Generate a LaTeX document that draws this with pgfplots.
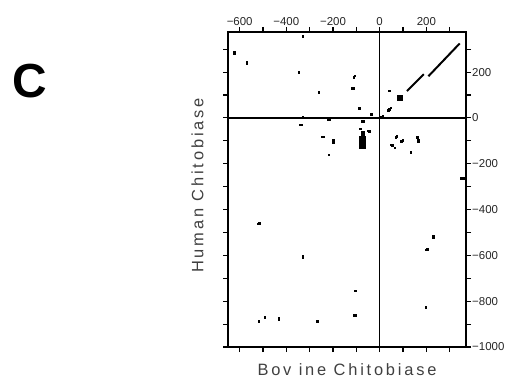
\documentclass[border=0pt]{standalone}
\usepackage{fontspec}
\setmainfont{Liberation Sans}
\usepackage{pgfplots}
\pgfplotsset{compat=1.18}
\usepackage{pgfplotstable}
\pgfplotstableread{
x y
-330 358
-623 284
-623 290
-570 240
-570 246
-347 200
-261 112
-330 4
-223 -6
-218 -6
-111 179
-108 185
-120 130
-114 130
-89 42
-36 17
7 4
12 7
36 34
40 38
46 45
40 120
-344 -29
-338 -29
-247 -81
-241 -81
-200 -98
-200 -106
-219 -160
-76 -13
-72 -13
-83 -46
-50 -55
-45 -57
69 -83
72 -80
93 -100
98 -97
46 -116
52 -120
64 -129
160 -83
164 -100
164 -95
133 -148
357 -262
350 -262
-523 -461
-518 -458
-330 -610
-330 -603
229 -522
229 -516
197 -575
202 -572
-519 -886
-493 -869
-433 -880
-433 -874
-269 -886
-106 -754
-110 -860
-104 -860
196 -825
-78 -60
-72 -60
-78 -68
-72 -68
-78 -75
-72 -75
-84 -82
-78 -82
-72 -82
-66 -82
-84 -90
-78 -90
-72 -90
-66 -90
-84 -98
-78 -98
-72 -98
-66 -98
-84 -106
-78 -106
-72 -106
-66 -106
-84 -114
-78 -114
-72 -114
-66 -114
-84 -122
-78 -122
-72 -122
-66 -122
-84 -130
-78 -130
-72 -130
-66 -130
80 80
86 80
92 80
80 86
86 86
92 86
80 92
86 92
92 92
80 98
86 98
92 98
}\pts
\pgfplotstableread{
x y
117 117
189 191
}\segA
\pgfplotstableread{
x y
209 182
343 325
}\segB
\begin{document}
\begin{tikzpicture}
\useasboundingbox (0,0) rectangle (510bp,381bp);
\node[font=\fontsize{48}{50}\selectfont\bfseries] at (30bp,300bp) {C};
\begin{axis}[
  at={(228bp,34bp)}, anchor=south west,
  width=238bp, height=315bp, scale only axis,
  xmin=-650, xmax=370, ymin=-1000, ymax=375,
  axis line style={line width=1.3pt},
  tick style={line width=1.1pt, black},
  major tick length=5bp,
  tick align=outside, tick pos=both,
  xtick={-600,-500,...,300},
  xticklabels={{\textminus600},,{\textminus400},,{\textminus200},,0,,200,},
  xticklabel pos=upper,
  ytick={-1000,-900,...,300},
  yticklabels={{\textminus1000},,{\textminus800},,{\textminus600},,{\textminus400},,{\textminus200},,0,,200,},
  yticklabel pos=right,
  every tick label/.append style={font=\fontsize{11.5}{13}\selectfont, text=black!85, inner sep=1pt},
  /pgf/number format/assume math mode=true,
  clip=false,
]
\addplot[black, line width=1.5pt] coordinates {(0,-1000) (0,375)};
\addplot[black, line width=1.4pt] coordinates {(-650,0) (370,0)};
\addplot[only marks, mark=square*, mark size=0.8bp, mark options={line width=0.2pt}, black] table {\pts};
\addplot[black, line width=2pt] table {\segA};
\addplot[black, line width=2pt] table {\segB};
\end{axis}
\node[font=\fontsize{16.5}{18}\selectfont\addfontfeature{LetterSpace=17}, text=black!75] at (347bp,11.3bp) {Bov ine Chitobiase};
\node[font=\fontsize{16.5}{18}\selectfont\addfontfeature{LetterSpace=17}, text=black!75, rotate=90] at (197.5bp,195.5bp) {Human Chitobiase};
\end{tikzpicture}
\end{document}
